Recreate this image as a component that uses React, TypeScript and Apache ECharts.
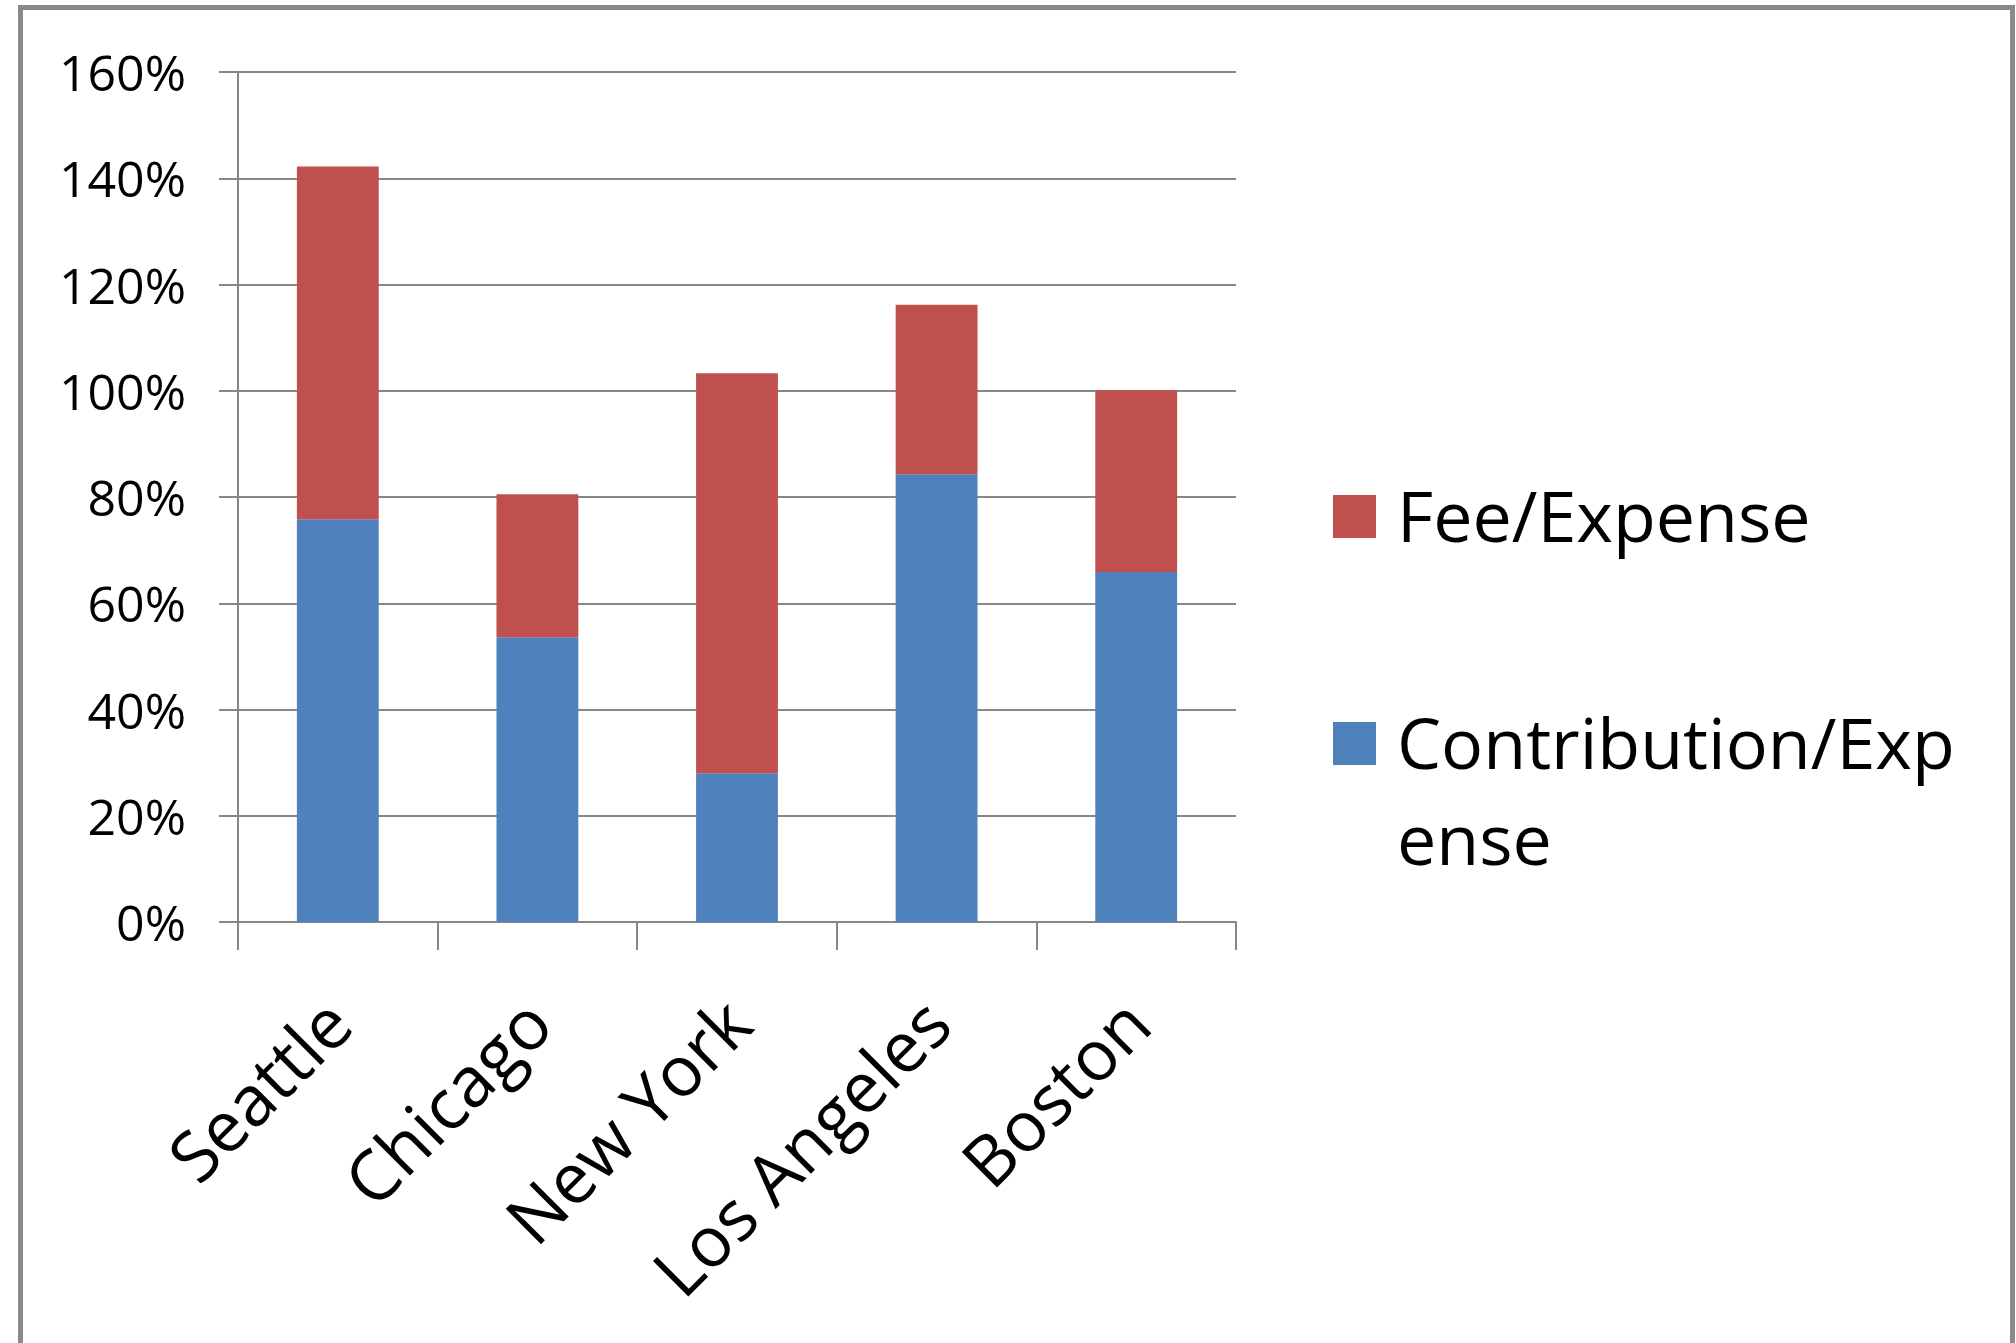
import React, { useEffect, useRef } from 'react';
import * as echarts from 'echarts';

// Categories and stacked series values (percent of expense)
const cities = ['Seattle', 'Chicago', 'New York', 'Los Angeles', 'Boston'];
const contributionPct = [75.8, 53.6, 28.0, 84.3, 65.9];
const feePct = [66.4, 26.9, 75.3, 31.9, 34.2];

// Value axis range
const yMin = 0;
const yMax = 160;
const yStep = 20;

// Legend entries (top to bottom)
const feeName = 'Fee/Expense';
const contributionName = 'Contribution/Expense';
const legendLines = ['Fee/Expense', 'Contribution/Exp\nense'];

const RED = '#C0504D';
const BLUE = '#4F81BD';
const GRID_GRAY = '#878787';
const FONT = 'Open Sans';

export default function App() {
  const ref = useRef<HTMLDivElement>(null);

  useEffect(() => {
    document.body.style.margin = '0';
    if (!ref.current) return;
    const chart = echarts.init(ref.current, undefined, { renderer: 'svg' });

    chart.setOption({
      animation: false,
      backgroundColor: '#ffffff',
      textStyle: { fontFamily: FONT, color: '#000' },
      legend: { show: false },
      grid: { left: 238, top: 72, right: 780, bottom: 421, containLabel: false },
      xAxis: {
        type: 'category',
        data: cities,
        axisLine: { show: true, lineStyle: { color: GRID_GRAY, width: 2 } },
        axisTick: { show: true, length: 28, lineStyle: { color: GRID_GRAY, width: 2 } },
        axisLabel: {
          interval: 0,
          rotate: 45,
          margin: 88,
          fontSize: 70,
          fontFamily: FONT,
          color: '#000',
        },
      },
      yAxis: {
        type: 'value',
        min: yMin,
        max: yMax,
        interval: yStep,
        axisLine: { show: true, lineStyle: { color: GRID_GRAY, width: 2 } },
        axisTick: { show: true, length: 19, lineStyle: { color: GRID_GRAY, width: 2 } },
        axisLabel: {
          formatter: '{value}%',
          margin: 52,
          fontSize: 50,
          fontFamily: FONT,
          color: '#000',
        },
        splitLine: { show: true, lineStyle: { color: GRID_GRAY, width: 2 } },
      },
      series: [
        {
          name: contributionName,
          type: 'bar',
          stack: 'total',
          barWidth: '41%',
          itemStyle: { color: BLUE },
          data: contributionPct,
        },
        {
          name: feeName,
          type: 'bar',
          stack: 'total',
          barWidth: '41%',
          itemStyle: { color: RED },
          data: feePct,
        },
      ],
      graphic: [
        // outer frame
        {
          type: 'rect',
          shape: { x: 20.5, y: 7.5, width: 1992, height: 1400 },
          style: { fill: 'none', stroke: '#8a8a8a', lineWidth: 5 },
          silent: true,
        },
        // legend: Fee/Expense
        {
          type: 'rect',
          shape: { x: 1333, y: 495, width: 43, height: 43 },
          style: { fill: RED },
        },
        {
          type: 'text',
          x: 1397,
          y: 515,
          style: {
            text: legendLines[0],
            fontSize: 70,
            fontFamily: FONT,
            fill: '#000',
            verticalAlign: 'middle',
            align: 'left',
          },
        },
        // legend: Contribution/Expense
        {
          type: 'rect',
          shape: { x: 1333, y: 722, width: 43, height: 43 },
          style: { fill: BLUE },
        },
        {
          type: 'text',
          x: 1397,
          y: 694,
          style: {
            text: legendLines[1],
            fontSize: 70,
            lineHeight: 96,
            fontFamily: FONT,
            fill: '#000',
            verticalAlign: 'top',
            align: 'left',
          },
        },
      ],
    });

    return () => chart.dispose();
  }, []);

  return <div ref={ref} style={{ width: 2016, height: 1343 }} />;
}
